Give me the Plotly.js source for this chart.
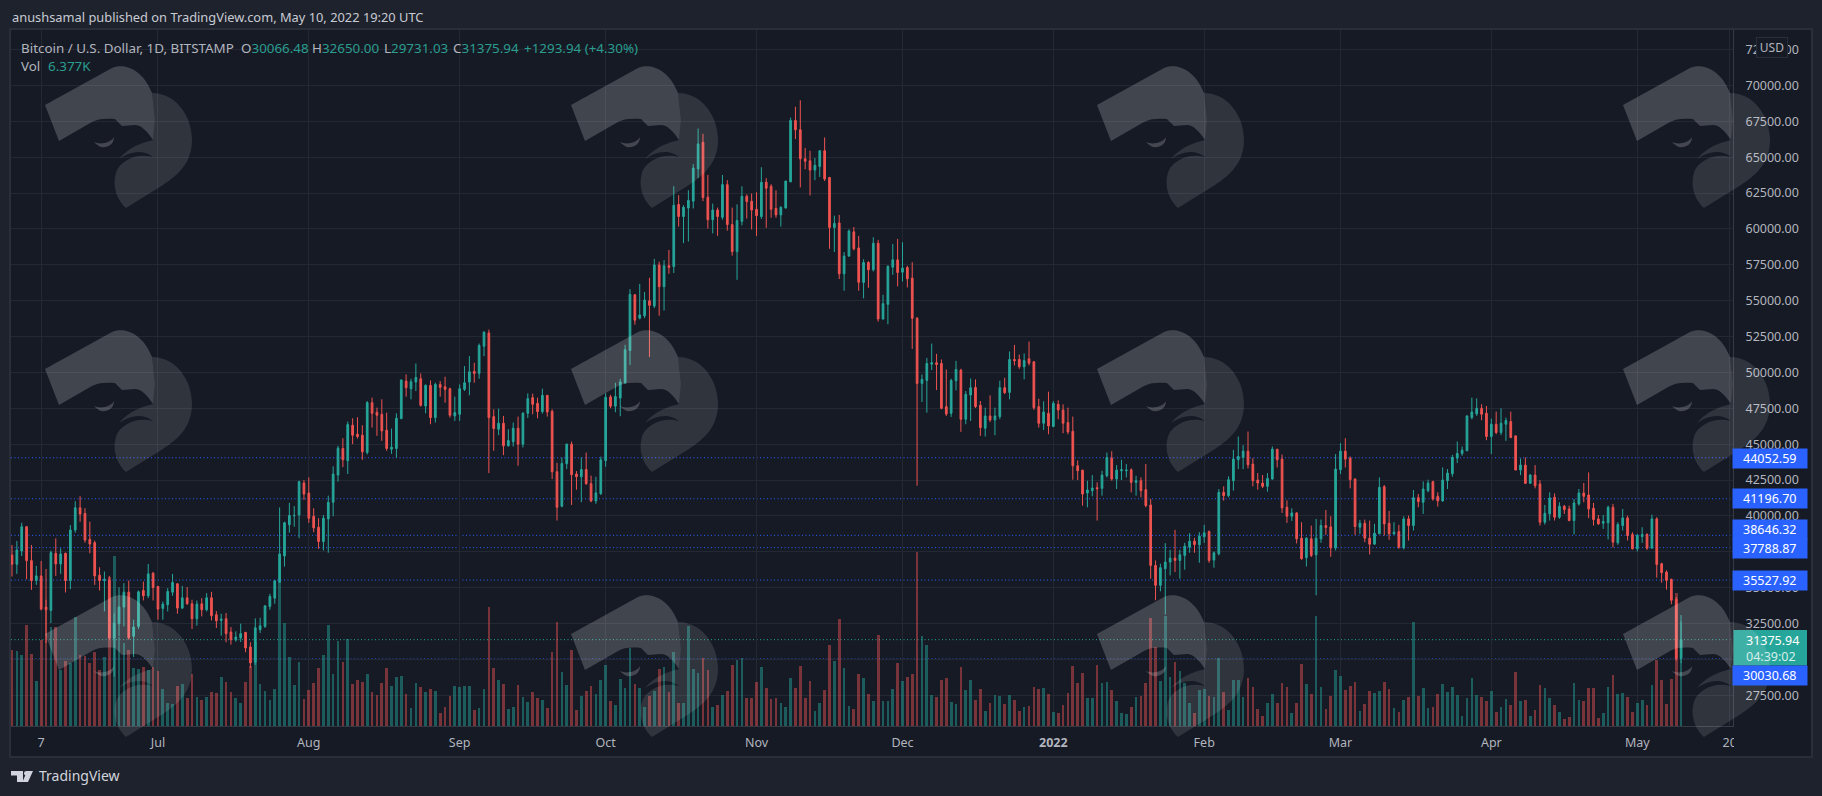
<!DOCTYPE html>
<html>
<head>
<meta charset="utf-8">
<script src="https://cdn.plot.ly/plotly-3.0.1.min.js"></script>
<style>html,body{margin:0;padding:0;background:#1e222d;overflow:hidden}</style>
</head>
<body>
<div id="chart" style="width:1822px;height:796px"></div>
<script>
// Daily BTC/USD values: 2021-06-01 .. 2022-05-10, one line per month
const opens = [
37280,36630,37557,39247,36886,35497,35821,33645,33414,37395,36655,37395,35497,39016,40567,40173,38368,38136,35868,35497,35543,31492,32488,33645,34687,31608,32303,34803,34432,36006,
35080,33553,33807,34687,35266,33576,34293,33877,32835,33877,33460,34293,33113,32719,32835,31909,31353,31492,31886,30867,29802,32071,32303,33691,34270,35381,37210,39386,40011,40070,42293,
41598,39977,39213,38218,39792,40949,42848,44700,43843,46320,45696,45626,44422,47894,47223,47084,45973,44654,44700,46783,49399,48867,49330,49561,47663,49098,46853,49167,49006,48867,46969,
47084,48821,49330,50071,49932,51830,52756,46922,46043,46459,44885,45163,46112,45000,47154,48242,47848,47270,48404,47293,43079,40672,43635,45000,42917,42727,43234,42250,41041,41547,
43853,48296,47650,48212,49281,51531,55412,53781,53950,54990,54624,57493,55974,57437,57381,61712,60868,61459,61937,64187,66043,62218,60644,61318,60812,63090,60306,58422,60531,62275,61937,
61375,60868,63259,62978,61431,60981,61459,63287,67562,66915,64890,64750,64103,64356,65453,63596,60109,60418,56875,58112,59800,58675,56274,57663,57153,59006,53727,54746,57339,57848,
56991,57315,56575,53773,49236,49445,50579,50671,50625,47616,47153,49422,50162,46736,48426,48958,47708,46111,46968,46690,46921,48935,48611,50903,50903,50394,50949,50741,47616,46458,47153,
46227,47778,47384,46504,45903,43495,43194,41596,41759,41967,41921,42800,44028,42569,43148,43148,43217,42337,42454,41830,40764,36551,35162,36320,36783,37060,36898,37246,37824,38241,37986,
38542,38912,36921,37361,41644,41412,42454,43913,44075,44515,43612,42500,42292,42061,42570,44654,43959,40602,39977,40209,38449,37084,38403,37292,38403,39329,39236,37778,
43218,44515,44029,42570,39213,39491,38449,38033,38750,42038,39491,38750,38912,37778,39792,39329,41273,40950,41760,42385,41367,41043,42455,42941,44029,44353,44538,46853,47108,47501,47154,
45534,46390,45812,46390,46575,45580,43196,43543,42270,42848,42223,39561,40140,41297,39908,40672,40487,39677,40834,41598,41459,40533,39793,39492,39515,40603,38126,39329,39862,38705,
37709,38566,38705,37755,39793,36668,36088,35579,34190,30066.48];
const highs = [
37975,38252,39525,39294,37975,36516,36863,34155,37581,38437,37743,37442,39363,41030,41377,40544,39595,38275,36423,36122,35821,33200,35034,35312,35497,32766,34803,35428,36655,36099,
35127,34039,34965,35960,35312,35127,35034,34155,34108,34270,34618,34710,33367,33182,33229,32256,31955,32488,31909,31191,32858,32905,33738,34571,35543,40590,39595,40914,40683,42454,42500,
42686,40533,39838,40070,41413,43450,44885,45418,46575,46806,46876,46320,48010,48242,47547,48126,47200,46089,47154,49515,49862,49561,50626,49932,49167,49445,49284,49399,49700,48936,48311,
49168,50441,51135,50672,52015,52872,52987,47431,47478,46968,46042,46505,46922,47246,48543,48520,48242,48867,48427,47431,43700,44075,45046,45186,43126,44078,44415,42812,42727,44134,
48550,48437,49281,49562,51925,55806,55469,56172,55609,56593,57915,57718,57831,58534,62978,62359,61656,62696,64525,66999,66634,63765,61768,61487,63765,63400,61487,61712,62978,62415,62472,
62556,64300,63540,63118,62696,61571,63343,67759,68518,68968,65650,65453,64946,65453,66381,63596,60925,60981,58393,59968,60137,59518,57894,57755,59422,59237,55417,57478,58959,59306,
59075,57431,57686,53866,49861,51019,52014,51296,50903,50208,49560,50810,50255,48704,49583,49514,48009,47546,48403,47546,49421,49629,51459,51921,51250,51320,52153,50787,48171,47986,48658,
48009,48056,47778,47546,46921,43866,43194,42453,42847,42337,43148,44421,44514,43541,43912,43611,43309,42800,42686,43612,41181,36898,36667,38102,37639,39028,37639,38125,38797,38472,38866,
39375,38982,37523,41875,42061,42755,44607,45533,44931,45880,44029,42987,42848,42987,44839,44654,44283,41088,40533,40255,39561,38519,39329,39792,39746,40417,39977,44306,
45070,45417,44144,42616,39723,39746,39676,39444,42686,42153,40347,39560,39375,39977,40023,41806,41528,42408,42524,42455,41645,43381,43265,44260,45186,44839,47015,48242,48196,47779,47663,
46784,47270,47501,46853,47270,45580,44006,44075,42918,43543,42501,40765,41645,41575,40950,40765,40718,41182,41876,42293,43034,40904,40070,40070,40718,40834,39561,40487,40024,38867,
38751,39214,38797,40094,39909,36737,36204,35626,34350,32650];
const lows = [
35775,35960,37210,35590,34849,35196,33414,31144,32534,35821,35960,34664,34895,38831,39595,38136,37395,35196,34803,33344,31376,28800,31608,32303,31376,30173,32117,34108,34270,34108,
32766,32766,33344,34432,33182,33506,33807,32117,32349,32997,33344,32719,32187,31654,31191,31029,31237,31214,30497,29409,29617,31839,32187,33460,33877,35358,36469,38831,39247,38450,41111,
39514,38866,37708,37593,37431,39977,42385,43404,42917,45000,45394,43913,44283,46158,45580,45232,44538,44329,44052,46737,48311,48126,48705,47617,47154,46390,46505,48311,47894,46853,46621,
46621,48705,48404,49283,49561,51135,42987,44538,45626,44237,44839,44839,43496,44770,46829,47084,46806,47131,46922,42570,39676,40602,43265,40764,41829,40956,42165,40956,40844,41462,
43431,47509,47228,46947,49196,50518,53331,53697,53781,51081,54484,53950,54315,56875,56931,60165,59012,59125,61431,63540,61937,60025,59687,59518,60644,59884,58140,56453,60250,60728,59968,
59518,60700,60081,60784,60784,60165,61431,63259,66268,62893,64159,62331,63400,63625,63343,58618,58393,56509,55693,58056,58506,55693,55163,55903,57038,53542,53681,53357,56806,55996,
56343,55927,51644,42106,47940,47199,50162,48773,47430,46967,46898,48750,45856,46389,46620,47523,45578,45532,46551,45625,46736,48495,48125,50486,50255,49514,50486,47384,46157,45995,45694,
46227,46736,45764,45694,42523,42500,40717,40600,41365,39675,41412,42685,42453,41875,42500,42685,41643,41412,41297,40602,35625,34120,34745,33125,35856,36088,35625,36250,37431,37431,36736,
38125,36736,36389,37245,41065,41297,41760,43264,43264,43311,42061,41829,41945,41690,42524,43380,40209,39514,39653,38079,36945,36481,37130,34468,38125,38681,37153,37593,
42917,43380,41922,38681,38750,38171,37315,37986,38750,38634,38333,38681,37708,37662,38287,38982,40602,40140,41644,41066,40649,40996,41876,42733,43682,44191,44538,46737,46969,46668,45279,
44307,45696,45626,45233,45418,43196,42848,42223,42223,41922,39329,39399,39677,39677,39793,40140,39631,38704,40718,40950,39839,39329,39376,39098,38357,37802,37987,38982,38288,37663,
37524,38126,37640,37755,35695,35348,34862,33843,29900,29731.03];
const closes = [
36630,37627,39247,36886,35497,35821,33506,33460,37442,36655,37349,35497,39016,40567,40127,38321,38044,35821,35497,35590,31492,32534,33645,34687,31492,32256,34710,34432,35960,35011,
33506,33853,34733,35358,33576,34293,33877,32835,33853,33460,34293,33043,32696,32812,31793,31376,31562,31793,30798,29756,32210,32349,33738,34386,35474,37349,39525,40034,40034,42385,41528,
39838,39167,38218,39838,40949,42917,44723,43913,46367,45626,45533,44468,47894,47154,47015,45927,44700,44792,46806,49469,48936,49353,49654,47709,49098,46853,49167,48959,48820,47015,47200,
48867,49283,50047,49932,51876,52802,46853,46089,46459,44885,45256,46112,45000,47154,48172,47779,47270,48404,47246,43079,40602,43658,45000,42871,42732,43234,42250,41041,41603,43909,
48268,47650,48325,49337,51587,55441,53641,54006,55047,54681,57493,55974,57437,57325,61656,60868,61515,61993,64243,65931,62190,60644,61318,60868,63090,60306,58422,60587,62275,61909,61318,
60925,63259,62837,61375,60981,61515,63343,67562,66915,64890,64722,64103,64440,65453,63484,60109,60390,56875,58112,59856,58618,56284,57663,57153,59006,53727,54792,57385,57848,56968,
57269,56528,53773,49236,49514,50625,50671,50556,47500,47106,49445,50208,46736,48472,48935,47616,46157,46968,46690,46968,48935,48588,50903,50810,50394,50833,50648,47546,46458,47245,46273,
47847,47384,46458,45856,43495,43148,41527,41805,41944,41898,42847,44074,42569,43194,43217,43194,42337,42453,41760,40718,36551,35162,36389,36783,37060,36898,37292,37894,38241,38010,38588,
38820,36898,37431,41644,41412,42523,43959,44144,44515,43565,42454,42292,42061,42616,44654,43913,40556,39977,40209,38403,37014,38449,37246,38449,39329,39190,37778,43264,
44515,43959,42524,39260,39491,38449,38033,38797,41991,39445,38750,38866,37824,39792,39329,41273,40996,41876,42293,41181,41043,42501,42987,44075,44353,44585,46969,47247,47501,47085,45534,
46390,45812,46460,46645,45464,43196,43543,42270,42848,42108,39561,40186,41251,39908,40672,40441,39677,40904,41598,41367,40487,39746,39445,39607,40603,38172,39399,39862,38635,37709,
38635,38705,37755,39793,36621,36042,35510,34121,30066,31375.94];
const volumes = [
4366,4309,4079,5802,4136,2604,4941,9020,5707,5707,3217,3753,3600,6243,4079,4022,3639,4270,3217,3983,8579,9767,5132,4788,4366,3313,3256,3409,3217,3370,
3179,2107,1302,1264,2298,2413,1609,2987,1647,1494,1647,1953,1915,2796,2528,1953,1609,1341,2528,3447,4845,2413,1992,1494,2107,8292,5937,3945,2355,3677,1551,
2068,2451,3313,4079,5802,2987,4883,3677,4998,2413,2643,2528,2987,1953,1781,2451,3313,2298,2796,2873,1838,1034,2451,2221,1953,2126,2011,728,1092,1724,2298,
2241,2298,2298,919,1034,2126,6856,3313,2643,2413,977,1111,2355,1666,1379,1953,1609,1494,1034,4270,5975,3102,2355,4366,919,1699,2001,2280,1815,2630,
3490,1419,1187,2723,2211,4468,2397,2211,1117,1745,2001,3281,3374,1955,4235,1350,1303,5724,3281,3072,3909,3211,1117,1233,1769,2001,3490,3816,3909,1582,1582,
2513,3397,2164,1536,1582,1303,1117,2746,2164,3444,1582,2560,838,1303,2048,4654,3723,6143,3328,1164,954,2979,2738,1838,1436,5228,1436,1436,2107,3619,
2566,2796,2987,9996,5171,4653,1781,1685,2624,2758,1398,1264,3390,2068,2624,1494,2107,881,1341,1781,1724,1264,1762,1494,881,1072,1149,2241,2126,2183,1838,
804,728,1206,1896,3447,2490,3045,1609,1609,3504,2451,2528,2068,1436,728,670,1092,1666,1724,2490,6205,4519,2585,6320,2815,3677,3160,2470,1341,766,2068,
2145,1724,1647,3907,1953,919,2643,2643,1666,2758,2241,977,575,1321,1838,1321,2470,2241,747,1321,3562,2413,1838,6320,2241,977,1724,3217,
2873,2068,2298,2528,862,1264,2011,1896,2011,2528,2126,1034,804,1494,1666,5975,1724,2164,1034,1092,1838,2413,1953,2241,1781,575,1609,2738,1781,1666,1436,
2011,804,1092,1551,1206,3102,1436,1494,575,919,2355,2183,1609,1206,804,402,517,2470,1494,1436,2183,2183,460,747,2241,2930,1838,1896,1666,804,
1321,1494,1206,2355,3792,2643,1264,2700,7641,6377];

const tickDates = ['2021-06-07','2021-07-01','2021-08-01','2021-09-01','2021-10-01','2021-11-01','2021-12-01','2022-01-01','2022-02-01','2022-03-01','2022-04-01','2022-05-01','2022-05-20'];
const tickLabels = ['7','Jul','Aug','Sep','Oct','Nov','Dec','<b>2022</b>','Feb','Mar','Apr','May','20'];
const priceTicks = [27500,30000,32500,35000,37500,40000,42500,45000,47500,50000,52500,55000,57500,60000,62500,65000,67500,70000,72500];
const priceLines = [44052.59,41196.70,38646.32,37788.87,35527.92,30030.68];
const lastPrice = 31375.94;

[opens,highs,lows,closes,volumes].forEach(a=>{ if(a.length!==344) throw new Error('length '+a.length); });

const dates = [];
for (let t = Date.UTC(2021,5,1), i = 0; i < 344; i++, t += 864e5) dates.push(new Date(t).toISOString().slice(0,10));

const UP = '#26a69a', DOWN = '#ef5350';
const volColors = closes.map((c,i)=> c >= opens[i] ? 'rgba(38,166,154,0.48)' : 'rgba(239,83,80,0.46)');

const traces = [
 {type:'bar', x:dates, y:volumes, yaxis:'y', xaxis:'x', width:0.55*864e5,
  marker:{color:volColors, line:{width:0}}, hoverinfo:'skip', showlegend:false},
 {type:'candlestick', x:dates, open:opens, high:highs, low:lows, close:closes, yaxis:'y2', xaxis:'x',
  whiskerwidth:0, hoverinfo:'skip', showlegend:false,
  increasing:{line:{color:UP,width:1},fillcolor:UP},
  decreasing:{line:{color:DOWN,width:1},fillcolor:DOWN}}
];

// pixel helpers for the page furniture
const L=11,R=1733,T=30,B=726;
const px = x => (x-L)/(R-L);
const py = y => (B-y)/(B-T);

function rect(x0,y0,x1,y1,fill,layer,line){
  return {type:'rect',xref:'paper',yref:'paper',x0:px(x0),x1:px(x1),y0:py(y0),y1:py(y1),
    fillcolor:fill,layer:layer,line:line||{width:0}};
}
function poly(cmds,ox,oy,fill){
  const p = cmds.map(c=>c[0]+c.slice(1).map((v,i)=> i%2===0 ? px(ox+v).toFixed(6) : py(oy+v).toFixed(6)).join(',')).join(' ')+' Z';
  return {type:'path',xref:'paper',yref:'paper',path:p,fillcolor:fill,line:{width:0},layer:'above'};
}

const band=[['M',0,0],['L',67,-37],['C',77,-42,97,-38,107,-12],['L',110,15],['L',108,35],['C',102,26,96,20,90,20],['L',77,21],['L',70,14],['C',60,13,52,14,47,17],['L',14,36]];
const lobe=[['M',107,-12],['C',130,-12,147,10,147,35],['C',147,58,133,70,118,80],['L',81,103],['C',72,95,66,80,72,65],['C',76,57,90,47,108,52],['C',98,44,86,46,74,54],['C',84,42,96,38,108,35],['L',110,15]];
const eye=[['M',49,37],['C',55,40,66,38,69,32],['C',69,40,62,43,56,42],['C',53,41,51,39,49,37]];
const tvT=[['M',0,0],['L',12,0],['L',12,11],['L',6,11],['L',6,4.5],['L',0,4.5]];
const tv7=[['M',16,0],['L',22,0],['L',17,11],['L',11.5,11]];

const shapes=[
 rect(10,29,1812,757,'#161a25','below',{color:'#2a2e39',width:2}),
 rect(1734,728,1811,756,'#161a25','above')
];
priceLines.forEach(v=>shapes.push({type:'line',xref:'paper',yref:'y2',x0:0,x1:1,y0:v,y1:v,layer:'below',line:{color:'#2962ff',width:1,dash:'1px,2.5px'}}));
shapes.push({type:'line',xref:'paper',yref:'y2',x0:0,x1:1,y0:lastPrice,y1:lastPrice,layer:'below',line:{color:'#26a69a',width:1,dash:'1px,2.5px'}});
shapes.push(rect(1733.5,630,1807,665.5,'#26a69a','above'));
for (const oy of [105,369,634]) for (const ox of [45,571,1097,1623]) {
  shapes.push(poly(band,ox,oy,'rgba(255,255,255,0.19)'));
  shapes.push(poly(lobe,ox,oy,'rgba(255,255,255,0.115)'));
  shapes.push(poly(eye,ox,oy,'rgba(255,255,255,0.2)'));
}
shapes.push(poly(tvT,11,771,'#d1d4dc'));
shapes.push(poly(tv7,11,771,'#d1d4dc'));
shapes.push({type:'circle',xref:'paper',yref:'paper',x0:px(24),x1:px(28.6),y0:py(771),y1:py(775.6),fillcolor:'#d1d4dc',line:{width:0},layer:'above'});

const FONT='"Noto Sans", sans-serif';
function note(x,y,text,color,size,extra){
  return Object.assign({xref:'paper',yref:'paper',x:px(x),y:py(y),text:text,showarrow:false,xanchor:'left',yanchor:'middle',
    font:{family:FONT,size:size||12,color:color||'#b2b5be'},borderpad:0,align:'left'},extra||{});
}
const G='#2a9d8f', W='#b2b5be';
const anns=[
 note(11,17.5,'anushsamal published on TradingView.com, May 10, 2022 19:20 UTC','#c8cbd2',12.85),
 note(20,47.5,'Bitcoin / U.S. Dollar, 1D, BITSTAMP',W,13.4),
 note(240,47.5,'O<span style="color:'+G+'">30066.48</span>',W,13.4),
 note(311,47.5,'H<span style="color:'+G+'">32650.00</span>',W,13.4),
 note(382.5,47.5,'L<span style="color:'+G+'">29731.03</span>',W,13.4),
 note(452,47.5,'C<span style="color:'+G+'">31375.94</span>',W,13.4),
 note(523,47.5,'+1293.94 (+4.30%)',G,13.4),
 note(20,66.5,'Vol',W,13.4),
 note(46.5,66.5,'6.377K',G,13.4),
 note(38,775.5,'TradingView','#d1d4dc',14),
 {xref:'paper',yref:'paper',x:px(1772),y:py(47),text:'USD',showarrow:false,xanchor:'center',yanchor:'middle',width:30,height:19,
  bgcolor:'#161a25',bordercolor:'#2a2e39',borderwidth:1,borderpad:0,font:{family:FONT,size:12,color:'#b2b5be'}},
 note(1745,640.5,'31375.94','#ffffff',12.5),
 note(1745,656.5,'04:39:02','#d5efec',12.5)
];
const boxes=[[44052.59,458.7],[41196.70,498.7],[38646.32,529.3],[37788.87,548.5],[35527.92,580.7],[30030.68,675]];
boxes.forEach(b=>anns.push({xref:'paper',yref:'paper',x:px(1770.2),y:py(b[1]),text:b[0].toFixed(2),showarrow:false,
  xanchor:'center',yanchor:'middle',width:73.5,height:19,bgcolor:'#2962ff',borderpad:0,
  font:{family:FONT,size:12.5,color:'#ffffff'}}));

const layout={
 width:1822,height:796,autosize:false,
 margin:{l:L,r:1822-R,t:T,b:796-B,pad:0},
 paper_bgcolor:'#1e222d',plot_bgcolor:'#161a25',
 showlegend:false,dragmode:false,bargap:0,boxgap:0.5,
 font:{family:FONT,color:'#b2b5be',size:12},
 xaxis:{type:'date',range:['2021-05-31 19:12','2022-05-20 16:00'],rangeslider:{visible:false},
   tickmode:'array',tickvals:tickDates,ticktext:tickLabels,tickangle:0,
   showgrid:true,gridcolor:'#242833',gridwidth:1,zeroline:false,
   showline:true,linecolor:'#363a45',linewidth:1,
   ticks:'outside',ticklen:5,tickcolor:'rgba(0,0,0,0)',
   tickfont:{family:FONT,size:12.5,color:'#b2b5be'}},
 yaxis:{range:[0,40000],visible:false,showgrid:false,zeroline:false,fixedrange:true},
 yaxis2:{overlaying:'y',side:'right',anchor:'x',range:[25358,73868],
   tickmode:'array',tickvals:priceTicks,ticktext:priceTicks.map(v=>v.toFixed(2)),
   showgrid:true,gridcolor:'#242833',gridwidth:1,zeroline:false,
   showline:true,linecolor:'#363a45',linewidth:1,
   ticks:'outside',ticklen:9,tickcolor:'rgba(0,0,0,0)',
   tickfont:{family:FONT,size:12.5,color:'#b2b5be'},fixedrange:true},
 shapes:shapes,annotations:anns
};
Plotly.newPlot('chart',traces,layout,{displayModeBar:false,staticPlot:true});
</script>
</body>
</html>
